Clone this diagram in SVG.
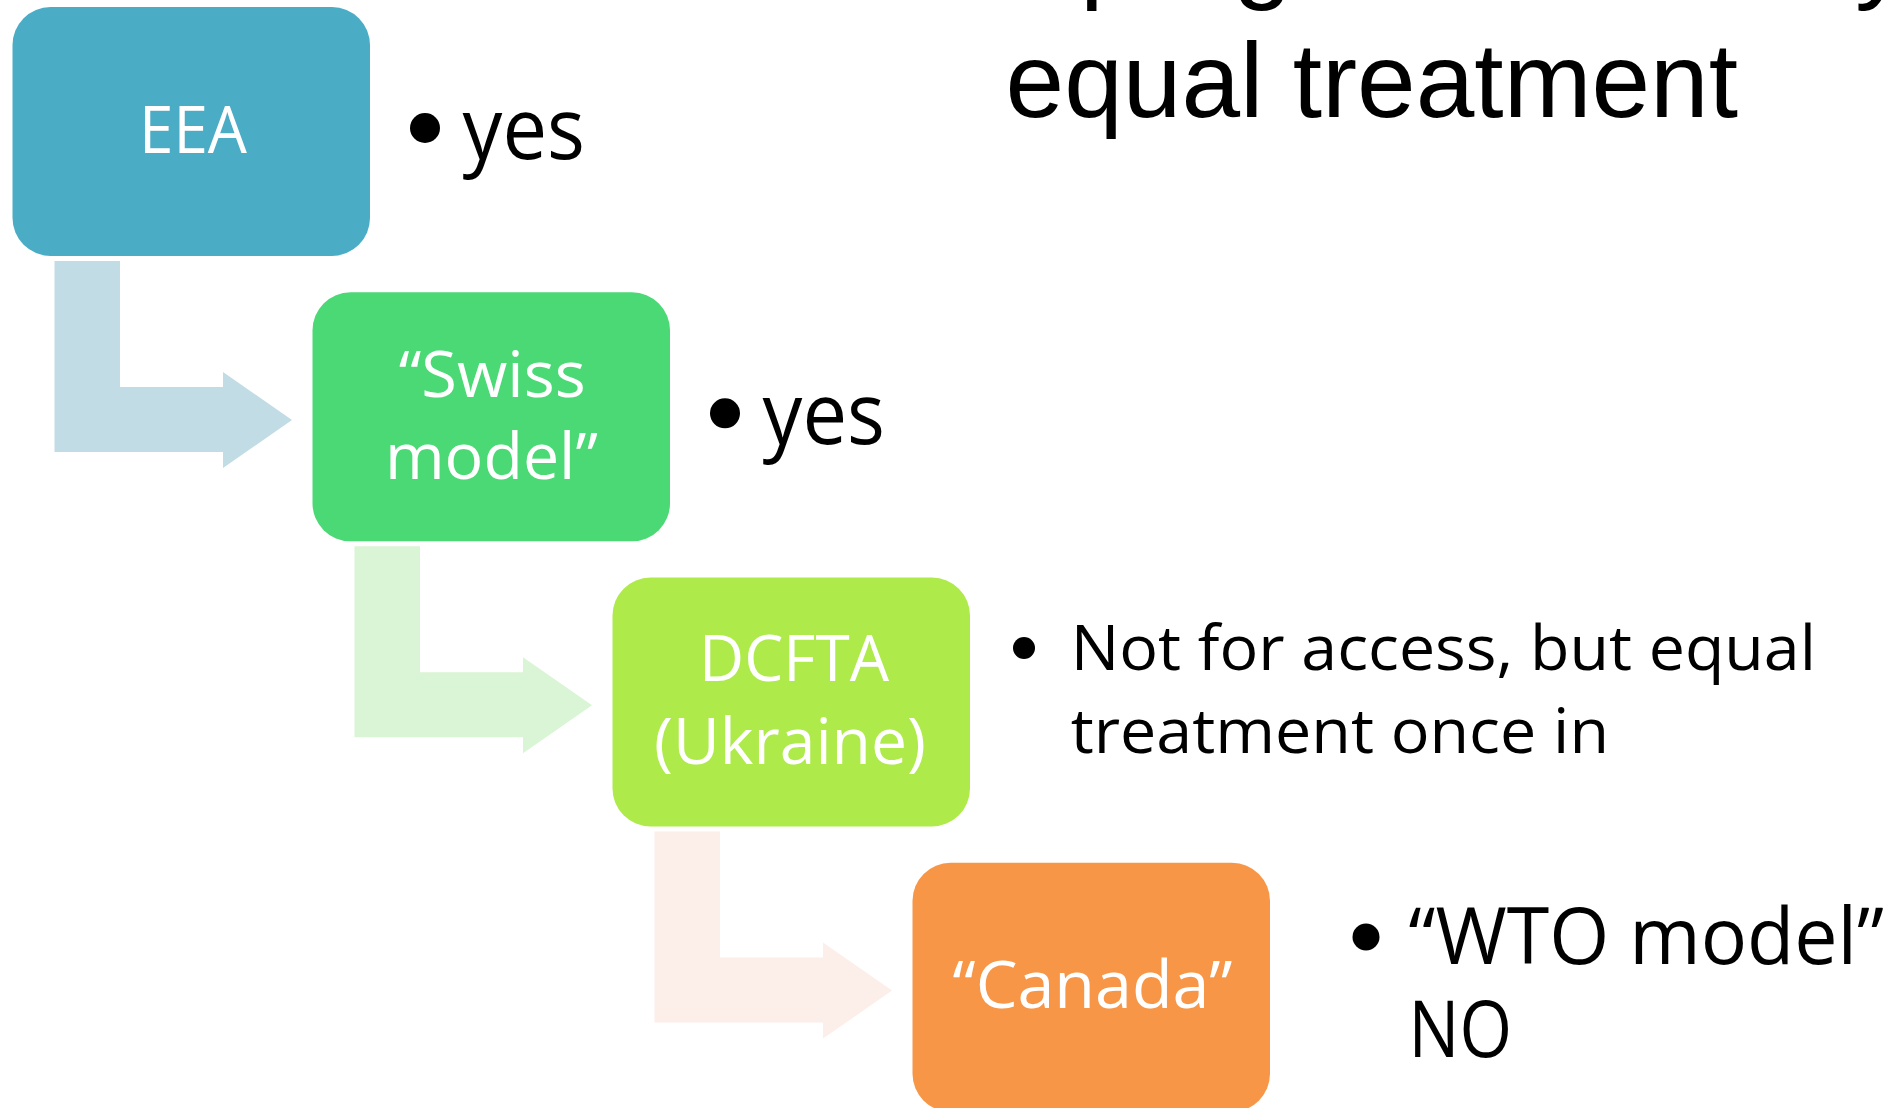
<svg xmlns="http://www.w3.org/2000/svg" width="1895" height="1108" viewBox="0 0 1895 1108">
<style>
.box-label{font-family:"Open Sans","Noto Sans",sans-serif;fill:#ffffff;text-anchor:middle;}
.item{font-family:"Open Sans","Noto Sans",sans-serif;fill:#000000;}
.title{font-family:"Liberation Sans",Arial,sans-serif;fill:#000000;}
.bullet{fill:#000000;}
</style>
<rect x="0" y="0" width="1895" height="1108" fill="#ffffff"/>
<g id="title">
<text class="title" font-size="106" y="-11"><tspan x="1080">p</tspan><tspan x="1233">g</tspan><tspan x="1855">y</tspan></text>
<text class="title" font-size="106" x="1005.5" y="116.7" textLength="732.5" lengthAdjust="spacingAndGlyphs">equal treatment</text>
</g>
<g id="connectors">
<polygon fill="#C2DCE5" points="54.5,261 120,261 120,387 223,387 223,372 292,420 223,468 223,452 54.5,452"/>
<polygon fill="#DAF5D5" points="354.5,546.3 420,546.3 420,672.3 523,672.3 523,657.3 592,705.3 523,753.3 523,737.3 354.5,737.3"/>
<polygon fill="#FCEEE9" points="654.5,831.6 720,831.6 720,957.6 823,957.6 823,942.6 892,990.6 823,1038.6 823,1022.6 654.5,1022.6"/>
</g>
<g id="node-eea">
<rect x="12.5" y="7" width="357.5" height="249" rx="38" ry="38" fill="#4BACC6"/>
<text class="box-label" font-size="65" x="193" y="152.7" textLength="108" lengthAdjust="spacingAndGlyphs">EEA</text>
</g>
<g id="node-swiss">
<rect x="312.5" y="292.3" width="357.5" height="249" rx="38" ry="38" fill="#4AD975"/>
<text class="box-label" font-size="64" x="492.2" y="396.7" textLength="187" lengthAdjust="spacingAndGlyphs">“Swiss</text>
<text class="box-label" font-size="64" x="491.4" y="478.7" textLength="213" lengthAdjust="spacingAndGlyphs">model”</text>
</g>
<g id="node-dcfta">
<rect x="612.5" y="577.5" width="357.5" height="249" rx="38" ry="38" fill="#AEEA49"/>
<text class="box-label" font-size="64" x="794" y="681" textLength="190" lengthAdjust="spacingAndGlyphs">DCFTA</text>
<text class="box-label" font-size="64" x="790" y="764" textLength="272" lengthAdjust="spacingAndGlyphs">(Ukraine)</text>
</g>
<g id="node-canada">
<rect x="912.5" y="862.8" width="357.5" height="249" rx="38" ry="38" fill="#F79646"/>
<text class="box-label" font-size="66" x="1092.5" y="1008.3" textLength="280" lengthAdjust="spacingAndGlyphs">“Canada”</text>
</g>
<g id="note-eea">
<circle class="bullet" cx="425" cy="128" r="15"/>
<text class="item" font-size="86" x="462.6" y="159" textLength="122.4" lengthAdjust="spacingAndGlyphs">yes</text>
</g>
<g id="note-swiss">
<circle class="bullet" cx="725" cy="413.3" r="15"/>
<text class="item" font-size="86" x="762.6" y="444.3" textLength="122.4" lengthAdjust="spacingAndGlyphs">yes</text>
</g>
<g id="note-dcfta">
<circle class="bullet" cx="1024" cy="648" r="11"/>
<text class="item" font-size="63" x="1070.7" y="670" textLength="745.3" lengthAdjust="spacingAndGlyphs">Not for access, but equal</text>
<text class="item" font-size="63" x="1070.7" y="753" textLength="538.3" lengthAdjust="spacingAndGlyphs">treatment once in</text>
</g>
<g id="note-canada">
<circle class="bullet" cx="1366" cy="937" r="13.5"/>
<text class="item" font-size="78" x="1408.6" y="964" textLength="475.4" lengthAdjust="spacingAndGlyphs">“WTO model”</text>
<text class="item" font-size="78" x="1408.6" y="1057" textLength="103.4" lengthAdjust="spacingAndGlyphs">NO</text>
</g>
</svg>
